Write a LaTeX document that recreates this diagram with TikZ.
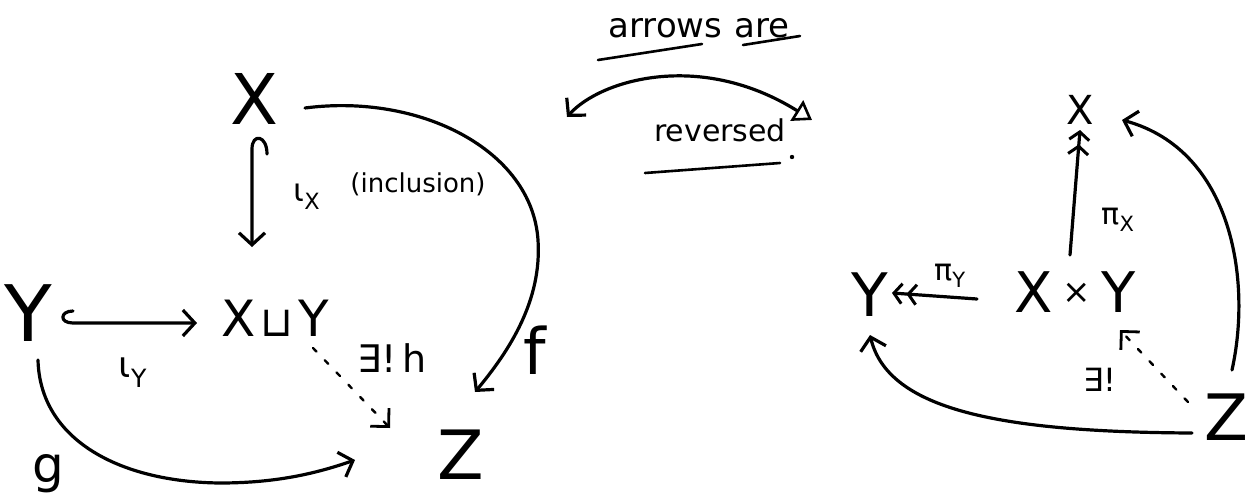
\documentclass[tikz,border=0pt]{standalone}
\usepackage{fontspec}
\setmainfont{DejaVu Sans}
\usetikzlibrary{arrows.meta,calc}
\newcommand{\fs}[1]{\fontsize{#1}{#1}\selectfont}
\begin{document}
\begin{tikzpicture}[x=1pt,y=-1pt, line width=3.2pt, line cap=round, line join=round,
  obj/.style={inner sep=0pt, outer sep=0pt},
  lbl/.style={inner sep=0pt, outer sep=0pt},
  barb/.tip={Straight Barb[length=12pt,width=26pt,line width=3.2pt]},
  tip/.style={-barb},
  epi/.style={-{Straight Barb[length=8pt,width=20pt,line width=3pt,sep=3pt] Straight Barb[length=8pt,width=20pt,line width=3pt]}},
  dashline/.style={line width=2.4pt, dash pattern=on 5pt off 12pt},
  dtip/.style={-{Straight Barb[length=13pt,width=26pt,line width=2.8pt]}}]
\useasboundingbox (0,0) rectangle (1248,498);

% ---------- left diagram: coproduct ----------
\node[obj, font=\fs{70}] (X) at (254,99) {X};
\node[obj, font=\fs{78}] (Y) at (28,313) {Y};
\node[obj, font=\fs{50}] (XY) at (275,318) {X\hspace{5pt}{\fs{42}⊔}\hspace{5pt}Y};
\node[obj, font=\fs{68}] (Z) at (461,455) {Z};

\node[lbl, font=\fs{32}] (lx) at (307,197) {ι\textsubscript{X}};
\node[lbl, font=\fs{26}] (incl) at (418,184) {(inclusion)};
\node[lbl, font=\fs{36}] (ly) at (133,373) {ι\textsubscript{Y}};
\node[lbl, font=\fs{38}] (h) at (392,358) {∃!\,h};
\node[lbl, font=\fs{64}] (f) at (535,350) {f};
\node[lbl, font=\fs{50}] (g) at (48,474) {g};

% hooked inclusion X -> X+Y
\draw[tip] ($(X)+(13,55)$) .. controls ($(X)+(13,36)$) and ($(X)+(-2,34)$) .. ($(X)+(-2,50)$)
  -- ($(XY)+(-23,-71)$);
% hooked inclusion Y -> X+Y
\draw[tip] ($(Y)+(45,-2)$) .. controls ($(Y)+(32,-2)$) and ($(Y)+(31,10)$) .. ($(Y)+(45,10)$)
  -- ($(XY)+(-78,5)$);
% f
\draw[tip] ($(X)+(51,9)$) .. controls (420,93) and (532,150) .. (538,240)
  .. controls (542,300) and (510,350) .. ($(Z)+(14,-63)$);
% g
\draw[tip] ($(Y)+(10,47)$) .. controls (40,440) and (120,482) .. (220,483)
  .. controls (280,483) and (320,472) .. ($(Z)+(-106,5)$);
% exists unique h
\draw[dashline, dtip] ($(XY)+(38,30)$) -- ($(Z)+(-71,-27)$);

% ---------- middle ----------
\node[lbl, font=\fs{34}] (arr) at (699,28) {arrows\hspace{12pt}are};
\draw[line width=2.6pt] (598,60) -- (702,44);
\draw[line width=2.6pt] (743,45) -- (800,36);
\coordinate (revL) at (567,117);
\coordinate (revR) at (812,120);
\draw[barb-{Triangle[open,length=18pt,width=24pt,line width=2.6pt]}]
  (revL) .. controls (600,80) and (700,50) .. (revR);
\node[lbl, font=\fs{30}] (rev) at (720,130) {reversed};
\draw[line width=2.6pt] (645,173) -- (780,163);
\fill (792,157) circle (2.2);

% ---------- right diagram: product ----------
\node[obj, font=\fs{40}] (X2) at (1080,110) {X};
\node[obj, font=\fs{60}] (Y2) at (870,295) {Y};
\node[obj, font=\fs{56}] (P) at (1075,292) {X\hspace{10pt}\raisebox{9pt}{\fs{34}×}\hspace{10pt}Y};
\node[obj, font=\fs{64}] (Z2) at (1226,417) {Z};

\node[lbl, font=\fs{30}] (px) at (1118,220) {π\textsubscript{X}};
\node[lbl, font=\fs{30}] (py) at (950,276) {π\textsubscript{Y}};
\node[lbl, font=\fs{32}] (ex) at (1100,380) {∃!};

\draw[epi] ($(P)+(-5,-37)$) -- ($(X2)+(0,20)$);
\draw[epi] ($(P)+(-98,7)$) -- ($(Y2)+(22,-2)$);
\draw[dashline, dtip] ($(Z2)+(-38,-15)$) -- ($(P)+(45,38)$);
\draw[tip] ($(Z2)+(6,-47)$) .. controls (1252,280) and (1232,150) .. ($(X2)+(42,10)$);
\draw[tip] ($(Z2)+(-34,16)$) .. controls (1000,432) and (888,410) .. ($(Y2)+(0,40)$);
\end{tikzpicture}
\end{document}
